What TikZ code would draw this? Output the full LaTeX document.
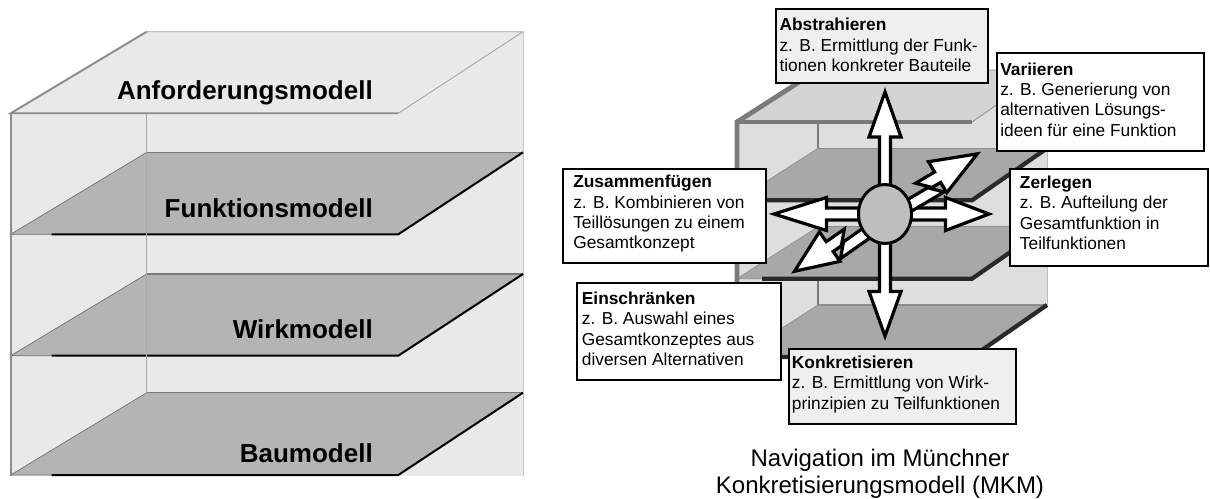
\documentclass[tikz,border=0pt]{standalone}
\usepackage{fontspec}
\setmainfont{Liberation Sans}
\usetikzlibrary{shapes.geometric}
\definecolor{wallL}{HTML}{E9E9E9}
\definecolor{planeL}{HTML}{B4B4B4}
\definecolor{rimL}{HTML}{8C8C8C}
\definecolor{thinL}{HTML}{A0A0A0}
\definecolor{backL}{HTML}{7A7A7A}
\definecolor{diagL}{HTML}{6E6E6E}
\definecolor{innerL}{HTML}{A8A8A8}
\definecolor{rightL}{HTML}{C4C4C4}
\definecolor{wallR}{HTML}{DEDEDE}
\definecolor{topR}{HTML}{D4D4D4}
\definecolor{planeR}{HTML}{A8A8A8}
\definecolor{rimR}{HTML}{7A7A7A}
\definecolor{darkR}{HTML}{2A2A2A}
\definecolor{thinR}{HTML}{8C8C8C}
\definecolor{rightR}{HTML}{BDBDBD}
\definecolor{boxgray}{HTML}{EFEFEF}
\definecolor{hubgray}{HTML}{BEBEBE}
\begin{document}
\begin{tikzpicture}[x=0.75pt,y=-0.75pt,
  lbl/.style={font=\fontsize{19.5pt}{23pt}\selectfont\bfseries, inner sep=0pt, anchor=base east},
  box/.style={draw=black, line width=1.5pt, inner sep=0pt, anchor=north west, fill=white},
  graybox/.style={box, fill=boxgray},
  txt/.style={font=\fontsize{13pt}{15.2pt}\selectfont, align=left, inner sep=0pt, anchor=north west},
  capt/.style={font=\fontsize{18pt}{20pt}\selectfont, inner sep=0pt, anchor=base},
  blockarrow/.style={fill=white, draw=black, line width=2.4pt, line join=miter, miter limit=10},
]
\useasboundingbox (0,0) rectangle (1210,499);

% ---------------- left cube ----------------
\fill[wallL] (10.7,113.3) -- (146.7,31.7) -- (523,31.7) -- (523,476) -- (10.7,476) -- cycle;
\draw[rightL, line width=0.6pt] (523,31.7) -- (523,476);
\foreach \b/\f in {152.3/234.3, 274/355.7, 392.7/475}{
  \fill[planeL] (10.7,\f) -- (146.7,\b) -- (523,\b) -- (398.3,\f) -- cycle;
  \draw[backL, line width=1pt] (146.7,\b) -- (523,\b);
  \draw[diagL, line width=0.5pt] (51.7,\f) -- (10.7,\f) -- (146.7,\b);
  \draw[black, line width=1.5pt] (51.7,\f) -- (398.3,\f) -- (523,\b);
}
\draw[innerL, line width=0.6pt] (146.7,113.3) -- (146.7,392.7);
\draw[thinL, line width=0.6pt] (146.7,31.7) -- (523,31.7) -- (398.3,113.3);
\draw[rimL, line width=1.4pt] (398.3,113.3) -- (10.7,113.3) -- (146.7,31.7);
\draw[rimL, line width=1.4pt] (10.7,113.3) -- (10.7,476);

\node[lbl] (anf) at (373,100) {Anforderungsmodell};
\node[lbl] (fkt) at (373,218) {Funktionsmodell};
\node[lbl] (wrk) at (373,338) {Wirkmodell};
\node[lbl] (bau) at (373,462) {Baumodell};

% ---------------- right cube ----------------
\fill[wallR] (737,122) -- (818,70) -- (1047,70) -- (1047,305) -- (972,357) -- (737,357) -- cycle;
\draw[rimR, line width=1.1pt] (818,70) -- (818,305);
\draw[rightR, line width=0.6pt] (1047,70) -- (1047,305);
\foreach \f in {200.3, 278.7, 357}{
  \pgfmathsetmacro{\b}{\f-52}
  \fill[planeR] (737,\f) -- (818,\b) -- (1047,\b) -- (972,\f) -- cycle;
  \draw[thinR, line width=0.8pt] (818,\b) -- (1047,\b);
  \draw[thinR, line width=0.5pt] (762,\f) -- (737,\f) -- (818,\b);
  \draw[darkR, line width=3.2pt] (762,\f) -- (972,\f) -- (1047,\b);
}
\fill[topR] (737,122) -- (818,70) -- (1047,70) -- (972,122) -- cycle;
\draw[thinR, line width=0.6pt] (818,70) -- (1047,70) -- (972,122);
\draw[rimR, line width=3.6pt] (737,357) -- (737,122) -- (818,70);
\draw[rimR, line width=3.4pt] (735,122) -- (972,122);

% ---------------- arrows ----------------
\draw[blockarrow] (879.5,214) -- (879.5,137) -- (869,137) -- (885,92) -- (901,137) -- (890.5,137) -- (890.5,214) -- cycle;
\draw[blockarrow] (879.5,214) -- (879.5,291.5) -- (869,291.5) -- (885,336) -- (901,291.5) -- (890.5,291.5) -- (890.5,214) -- cycle;
\draw[blockarrow] (885,208) -- (826.5,208) -- (826.5,197.5) -- (774,214) -- (826.5,230.5) -- (826.5,220) -- (885,220) -- cycle;
\draw[blockarrow] (885,208) -- (945.5,208) -- (945.5,197.5) -- (989,214) -- (945.5,230.5) -- (945.5,220) -- (885,220) -- cycle;
\begin{scope}[shift={(885,214)}, rotate=30.5, x=0.75pt, y=0.75pt]
  \draw[blockarrow] (22,-11) -- (62,-11) -- (52,-1) -- (64,-1) -- (64,-13) -- (110,5) -- (64,23) -- (64,11) -- (42,11) -- (52,1) -- (22,1) -- cycle;
\end{scope}
\begin{scope}[shift={(885,214)}, rotate=215, x=0.75pt, y=-0.75pt]
  \draw[blockarrow] (22,-11) -- (62,-11) -- (52,-1) -- (64,-1) -- (64,-13) -- (107,5) -- (64,23) -- (64,11) -- (42,11) -- (52,1) -- (22,1) -- cycle;
\end{scope}
\node[draw=black, line width=2.2pt, fill=hubgray, ellipse, minimum width=39.75pt, minimum height=44.25pt, inner sep=0pt] (hub) at (885,214) {};

% ---------------- boxes ----------------
\node[graybox, minimum width=159pt, minimum height=55.3pt] (abs) at (775,8) {};
\node[txt] (abst) at ([xshift=3.2pt]abs.north west) {\rule{0pt}{17pt}\textbf{Abstrahieren}\\z. B. Ermittlung der Funk-\\tionen konkreter Bauteile};

\node[box, minimum width=155.5pt, minimum height=73.3pt] (var) at (996,52.3) {};
\node[txt] (vart) at ([xshift=3pt]var.north west) {\rule{0pt}{17pt}\textbf{Variieren}\\z. B. Generierung von\\alternativen Lösungs-\\ideen für eine Funktion};

\node[box, minimum width=152.1pt, minimum height=70.2pt] (zus) at (561.7,168.4) {};
\node[txt] (zust) at ([xshift=8.5pt]zus.north west) {\rule{0pt}{14.5pt}\textbf{Zusammenfügen}\\z. B. Kombinieren von\\Teillösungen zu einem\\Gesamtkonzept};

\node[box, minimum width=148.5pt, minimum height=73pt] (zer) at (1009,167.7) {};
\node[txt] (zert) at ([xshift=8pt]zer.north west) {\rule{0pt}{15.5pt}\textbf{Zerlegen}\\z. B. Aufteilung der\\Gesamtfunktion in\\Teilfunktionen};

\node[box, minimum width=153pt, minimum height=73.2pt] (ein) at (576,281.7) {};
\node[txt] (eint) at ([xshift=4.2pt]ein.north west) {\rule{0pt}{17pt}\textbf{Einschränken}\\z. B. Auswahl eines\\Gesamtkonzeptes aus\\diversen Alternativen};

\node[graybox, minimum width=170.5pt, minimum height=55.8pt] (kon) at (787.7,348.3) {};
\node[txt] (kont) at ([xshift=3pt]kon.north west) {\rule{0pt}{15pt}\textbf{Konkretisieren}\\z. B. Ermittlung von Wirk-\\prinzipien zu Teilfunktionen};

% ---------------- caption ----------------
\node[capt] (cap1) at (880,466.7) {Navigation im Münchner};
\node[capt] (cap2) at (880,493) {Konkretisierungsmodell (MKM)};
\end{tikzpicture}
\end{document}
